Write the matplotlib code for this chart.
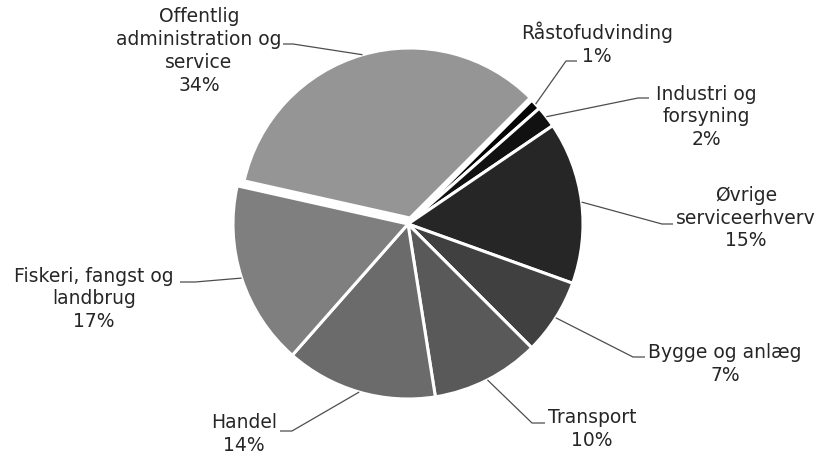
import numpy as np
import matplotlib
matplotlib.use("Agg")
import matplotlib.pyplot as plt

plt.rcParams['font.family'] = ['DejaVu Sans']

# ---- data ----
categories = ["Råstofudvinding", "Industri og\nforsyning", "Øvrige\nserviceerhverv",
              "Bygge og anlæg", "Transport", "Handel", "Fiskeri, fangst og\nlandbrug",
              "Offentlig\nadministration og\nservice"]
values = [1, 2, 15, 7, 10, 14, 17, 34]
colors = ["#050505", "#111111", "#262626", "#404040", "#595959", "#6b6b6b", "#7f7f7f", "#959595"]

# ---- layout (pixels) ----
W, H = 818, 455
cx, cy, R = 408, 224, 175

fig = plt.figure(figsize=(W / 100, H / 100), dpi=100)
ax = fig.add_axes([0, 0, 1, 1])

def px(x, y):
    return ((x - cx) / R, (cy - y) / R)

wedges, _ = ax.pie(values, colors=colors, startangle=45,
                   counterclock=False, radius=1.0, center=(0, 0),
                   wedgeprops=dict(edgecolor='white', linewidth=2.2))
# pulled-out slice (Offentlig): shifted outward and slightly smaller, as in the original
wedges[-1].set_center(px(410, 218))
wedges[-1].set_radius(170 / R)

ax.set_aspect('auto')
ax.set_xlim(-cx / R, (W - cx) / R)
ax.set_ylim(-(H - cy) / R, cy / R)
ax.axis('off')

# label block centers and leader elbows / ends (pixels)
label_pos = [(597, 44), (706, 117), (746, 218), (725, 364), (592, 429),
             (244, 434), (94, 299), (199, 51)]
elbows = [(566, 61), (638, 98), (662, 224), (633, 357), (532, 423),
          (292, 431), (195, 282), (293, 44)]
ends = [(577, 61), (649, 98), (673, 224), (645, 357), (545, 423),
        (280, 431), (180, 282), (283, 44)]

for w, cat, v, lp, el, en in zip(wedges, categories, values, label_pos, elbows, ends):
    mid = np.deg2rad((w.theta1 + w.theta2) / 2)
    c = w.center
    sx, sy = c[0] + w.r * np.cos(mid), c[1] + w.r * np.sin(mid)
    ex, ey = px(*el)
    nx, ny = px(*en)
    ax.plot([sx, ex, nx], [sy, ey, ny], color='#4d4d4d', lw=0.9,
            solid_capstyle='butt', zorder=3)
    tx, ty = px(*lp)
    ax.text(tx, ty, f"{cat}\n{v}%", ha='center', va='center', multialignment='center',
            fontsize=13.5, color='#262626', linespacing=1.25)

fig.savefig("out.png", dpi=100)
